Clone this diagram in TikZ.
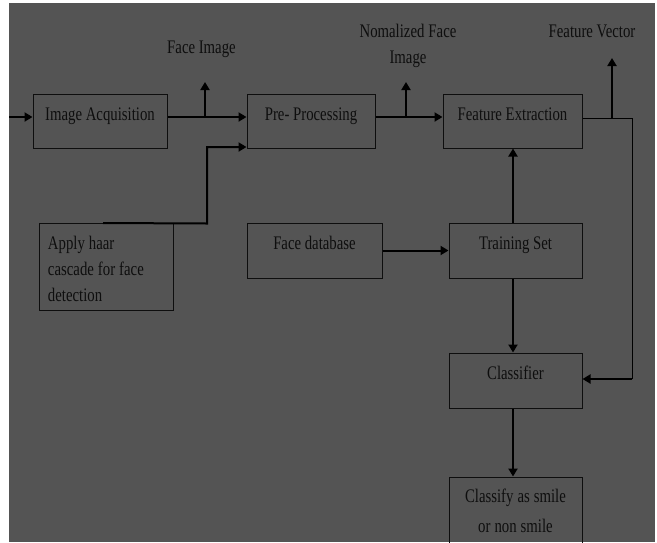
\documentclass[tikz,border=0pt]{standalone}
\usepackage{fontspec}
\setmainfont{Liberation Serif}[FakeStretch=0.77]
\usepackage{tikz}
\usetikzlibrary{arrows.meta,positioning}
\definecolor{BgGray}{RGB}{84,84,84}
\definecolor{InkDark}{RGB}{14,14,14}
\newcommand\lblfont{\fontsize{19.2}{26}\selectfont}
\newcommand\resfont{\fontsize{19.2}{30}\selectfont}
\newcommand\wsp{\hspace*{4pt}}

\begin{document}
\begin{tikzpicture}[x=1pt,y=-1pt,
        txt/.style={font=\lblfont,text=InkDark,inner sep=0pt},
        blk/.style={txt,draw=InkDark,line width=1pt,minimum height=54pt,
            text height=26pt,text depth=28pt,align=center},
        arr/.style={line width=2pt,black,-{Triangle[length=8pt,width=9pt]}},
        fbline/.style={line width=1pt,black}]
    \useasboundingbox (0,0) rectangle (657,542);
    \clip (0,0) rectangle (657,542);
    \fill[BgGray] (9,3) rectangle (655,542);

    % blocks
    \node[blk,minimum width=134pt] (acq) at (100,121) {Image Acquisition};
    \node[blk,minimum width=128pt] (pre) at (311,121) {Pre- Processing};
    \node[blk,minimum width=139pt] (feat) at (512.5,121) {Feature Extraction};
    \node[blk,minimum width=134pt,minimum height=87pt,text height=26pt,text depth=61pt,
        text width=116pt,inner xsep=9pt,align=left] (haar) at (106,266.5)
        {Apply\wsp{}haar\\cascade\wsp{}for\wsp{}face\\detection};
    \node[blk,minimum width=135pt,minimum height=55pt,text depth=29pt] (db) at (314.5,250.5) {Face database};
    \node[blk,minimum width=133pt,minimum height=55pt,text depth=29pt] (train) at (515.5,250.5) {Training Set};
    \node[blk,minimum width=133pt,minimum height=55pt,text depth=29pt] (clf) at (515.5,380.5) {Classifier};
    \node[blk,minimum width=133pt,minimum height=83pt,text height=25pt,text depth=58pt,
        text width=133pt,font=\resfont] (res) at (515.5,518.5)
        {Classify\wsp{}as\wsp{}smile\\or\wsp{}non\wsp{}smile};

    % labels
    \node[txt,anchor=base] (lfi) at (201.5,53) {Face Image};
    \node[txt,anchor=base,text width=110pt,align=center] (lnf) at (408,37) {Nomalized\wsp{}Face\\Image};
    \node[txt,anchor=base] (lfv) at (592,37) {Feature Vector};

    \coordinate (in) at (9,117);
    \coordinate (fi) at (205,117);
    \coordinate (fitop) at (205,82);
    \coordinate (nf) at (406,117);
    \coordinate (nftop) at (406,82);
    \coordinate (fv) at (612,118);
    \coordinate (fvtop) at (612,58);
    \coordinate (hk) at (207,223.5);
    \coordinate (fb) at (632,379);

    % connectors
    \draw[arr] (in) -- ([yshift=4pt]acq.west);
    \draw[arr] ([yshift=4pt]acq.east) -- ([yshift=4pt]pre.west);
    \draw[arr] (fi) -- (fitop);
    \draw[arr] ([xshift=-3pt,yshift=-0.5pt]haar.north) -- (hk) |- ([yshift=-26pt]pre.west);
    \draw[arr] ([yshift=4pt]pre.east) -- ([yshift=4pt]feat.west);
    \draw[arr] (nf) -- (nftop);
    \draw[fbline] ([yshift=3pt]feat.east) -| (fb);
    \draw[arr] (fb) -- (clf.east |- fb);
    \draw[arr] (fv) -- (fvtop);
    \draw[arr] ([xshift=-2.5pt]train.north) -- ([xshift=-2.5pt]train.north |- feat.south);
    \draw[arr] (db.east) -- (train.west);
    \draw[arr] ([xshift=-2.5pt]train.south) -- ([xshift=-2.5pt]clf.north);
    \draw[arr] ([xshift=-2.5pt]clf.south) -- ([xshift=-2.5pt]res.north);
\end{tikzpicture}
\end{document}
